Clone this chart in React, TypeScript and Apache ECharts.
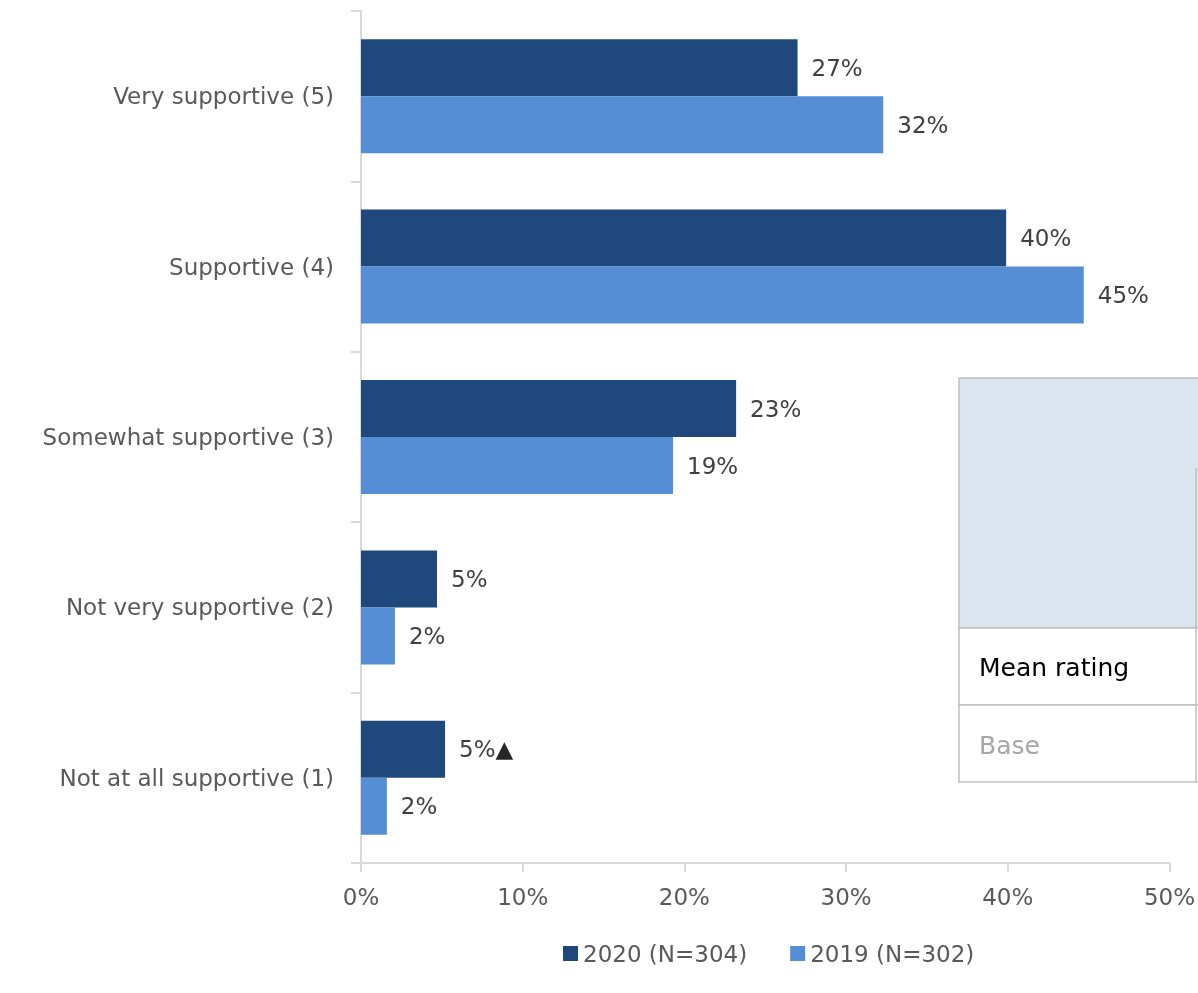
import React, { useEffect, useRef } from "react";
import * as echarts from "echarts";

const categories = [
  "Very supportive (5)",
  "Supportive (4)",
  "Somewhat supportive (3)",
  "Not very supportive (2)",
  "Not at all supportive (1)",
];
const series2020 = [27.0, 39.9, 23.2, 4.7, 5.2];
const series2019 = [32.3, 44.7, 19.3, 2.1, 1.6];
const labels2020 = ["27%", "40%", "23%", "5%", "5%"];
const labels2019 = ["32%", "45%", "19%", "2%", "2%"];
const flags2020 = [false, false, false, false, true];
const seriesNames = ["2020 (N=304)", "2019 (N=302)"];
const xTicks = [0, 10, 20, 30, 40, 50];
const tableRows = ["Mean rating", "Base"];

const FONT = "DejaVu Sans";
const GREY = "#595959";
const FS = 23;

export default function App() {
  const ref = useRef<HTMLDivElement>(null);
  useEffect(() => {
    if (!ref.current) return;
    const chart = echarts.init(ref.current, null, { renderer: "svg" });
    const labelStyle = {
      show: true,
      position: "right",
      distance: 14,
      color: "#404040",
      fontFamily: FONT,
      fontSize: FS,
    };
    chart.setOption({
      animation: false,
      textStyle: { fontFamily: FONT },
      grid: { left: 361, top: 11, right: 27, bottom: 130, containLabel: false },
      xAxis: {
        type: "value",
        min: xTicks[0],
        max: xTicks[xTicks.length - 1],
        interval: 10,
        axisLine: { show: true, lineStyle: { color: "#d9d9d9", width: 2 } },
        axisTick: { show: true, length: 9, lineStyle: { color: "#d9d9d9", width: 2 } },
        splitLine: { show: false },
        axisLabel: {
          formatter: (v: number) => v + "%",
          color: GREY,
          fontFamily: FONT,
          fontSize: FS,
          margin: 22,
        },
      },
      yAxis: {
        type: "category",
        data: categories,
        inverse: true,
        axisLine: { show: true, lineStyle: { color: "#d9d9d9", width: 2 } },
        axisTick: { show: true, length: 10, lineStyle: { color: "#d9d9d9", width: 2 } },
        axisLabel: { color: GREY, fontFamily: FONT, fontSize: FS, margin: 27 },
      },
      legend: {
        top: 937,
        left: 558,
        itemWidth: 15,
        itemHeight: 15,
        itemGap: 43,
        icon: "rect",
        textStyle: { color: GREY, fontFamily: FONT, fontSize: FS },
        data: seriesNames,
      },
      series: [
        {
          name: seriesNames[0],
          type: "bar",
          data: series2020,
          barWidth: 57,
          barGap: "0%",
          itemStyle: { color: "#1f497d" },
          label: {
            ...labelStyle,
            formatter: (p: any) =>
              flags2020[p.dataIndex]
                ? labels2020[p.dataIndex] + "{t|▲}"
                : labels2020[p.dataIndex],
            rich: { t: { color: "#262626", fontSize: FS, fontFamily: FONT } },
          },
        },
        {
          name: seriesNames[1],
          type: "bar",
          data: series2019,
          barWidth: 57,
          barGap: "0%",
          itemStyle: { color: "#558ed5" },
          label: {
            ...labelStyle,
            formatter: (p: any) => labels2019[p.dataIndex],
          },
        },
      ],
      graphic: [
        {
          type: "rect",
          shape: { x: 959, y: 378, width: 260, height: 250 },
          style: { fill: "#dce6f1", stroke: "#bfbfbf", lineWidth: 1.5 },
          z: 10,
        },
        {
          type: "rect",
          shape: { x: 959, y: 628, width: 260, height: 77 },
          style: { fill: "#ffffff", stroke: "#bfbfbf", lineWidth: 1.5 },
          z: 10,
        },
        {
          type: "rect",
          shape: { x: 959, y: 705, width: 260, height: 77 },
          style: { fill: "#ffffff", stroke: "#bfbfbf", lineWidth: 1.5 },
          z: 10,
        },
        {
          type: "line",
          shape: { x1: 1196, y1: 468, x2: 1196, y2: 782 },
          style: { stroke: "#bfbfbf", lineWidth: 1.5 },
          z: 11,
        },
        {
          type: "text",
          x: 979,
          y: 667,
          style: {
            text: tableRows[0],
            fill: "#000000",
            fontFamily: FONT,
            fontSize: 25,
            verticalAlign: "middle",
          },
          z: 12,
        },
        {
          type: "text",
          x: 979,
          y: 745,
          style: {
            text: tableRows[1],
            fill: "#a6a6a6",
            fontFamily: FONT,
            fontSize: 25,
            verticalAlign: "middle",
          },
          z: 12,
        },
      ],
    });
    return () => chart.dispose();
  }, []);
  return (
    <div
      ref={ref}
      style={{ position: "fixed", left: 0, top: 0, width: 1198, height: 993 }}
    />
  );
}
